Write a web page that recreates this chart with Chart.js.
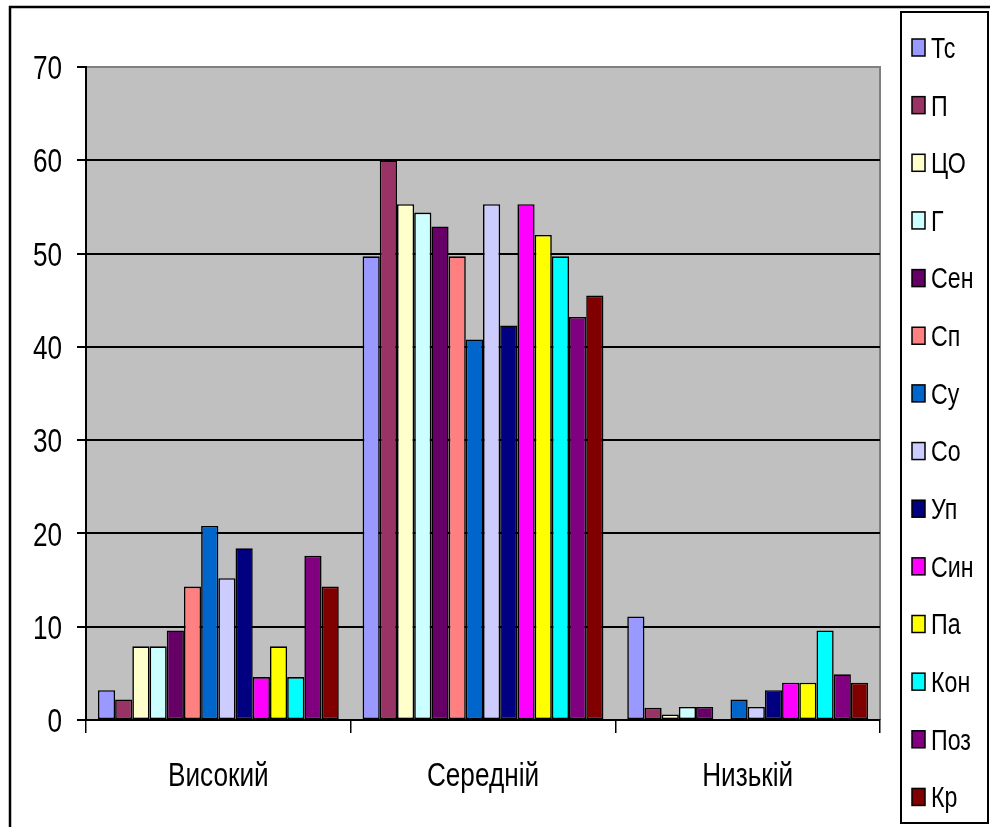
<!DOCTYPE html>
<html>
<head>
<meta charset="utf-8">
<script src="https://cdn.jsdelivr.net/npm/chart.js@4/dist/chart.umd.min.js"></script>
<style>
  html, body { margin: 0; padding: 0; background: #fff; }
  canvas { display: block; }
</style>
</head>
<body>
<canvas id="chart" width="990" height="827"></canvas>
<script>
// Levels along the x axis
const categories = ['Високий', 'Середній', 'Низькій'];

// Series (one bar per series in each level)
const seriesNames = ['Тс', 'П', 'ЦО', 'Г', 'Сен', 'Сп', 'Су', 'Со', 'Уп', 'Син', 'Па', 'Кон', 'Поз', 'Кр'];
const seriesColors = ['#9999FF', '#993366', '#FFFFCC', '#CCFFFF', '#660066', '#FF8080', '#0066CC',
                      '#CCCCFF', '#000080', '#FF00FF', '#FFFF00', '#00FFFF', '#800080', '#800000'];

// Values per level, in series order
const highValues   = [3.2, 2.2, 7.9, 7.9, 9.6, 14.3, 20.8, 15.2, 18.4, 4.6, 7.9, 4.6, 17.6, 14.3];
const mediumValues = [49.7, 60, 55.3, 54.4, 52.9, 49.7, 40.8, 55.3, 42.3, 55.3, 52.0, 49.7, 43.2, 45.5];
const lowValues    = [11.1, 1.3, 0.6, 1.4, 1.4, 0, 2.2, 1.4, 3.2, 4.0, 4.0, 9.6, 4.9, 4.0];

// Value axis
const yMin = 0;
const yMax = 70;
const yStep = 10;

const FONT = "'Liberation Sans', Arial, sans-serif";
const AXIS_FONT_SIZE = 34;
const AXIS_STRETCH = 0.77;   // condensed look of the axis text
const LEGEND_FONT_SIZE = 29;
const LEGEND_STRETCH = 0.8;

const datasets = seriesNames.map((name, i) => ({
  label: name,
  data: [highValues[i], mediumValues[i], lowValues[i]],
  backgroundColor: seriesColors[i],
  borderColor: '#000',
  borderWidth: 1.6,
  borderSkipped: false,
  categoryPercentage: 0.91,
  barPercentage: 1.0
}));

// Draw text squeezed horizontally around its anchor point
function drawCondensed(ctx, text, x, y, stretch, align) {
  ctx.save();
  ctx.translate(x, y);
  ctx.scale(stretch, 1);
  ctx.textAlign = align;
  ctx.fillText(text, 0, 0);
  ctx.restore();
}

// Page background, grey plot area and its grey top/right edge
const plotBackground = {
  id: 'plotBackground',
  beforeDraw(chart) {
    const { ctx, chartArea: a } = chart;
    ctx.save();
    ctx.fillStyle = '#fff';
    ctx.fillRect(0, 0, chart.width, chart.height);
    ctx.fillStyle = '#C0C0C0';
    ctx.fillRect(a.left, a.top, a.right - a.left, a.bottom - a.top);
    ctx.strokeStyle = '#808080';
    ctx.lineWidth = 2;
    ctx.beginPath();
    ctx.moveTo(a.left, a.top);
    ctx.lineTo(a.right, a.top);
    ctx.lineTo(a.right, a.bottom);
    ctx.stroke();
    ctx.restore();
  }
};

// Tick labels of both axes, placed at the scales' own tick pixels
const axisLabels = {
  id: 'axisLabels',
  afterDraw(chart) {
    const { ctx } = chart;
    const xs = chart.scales.x;
    const ys = chart.scales.y;
    const cap = AXIS_FONT_SIZE * 0.716;
    ctx.save();
    ctx.fillStyle = '#000';
    ctx.font = AXIS_FONT_SIZE + 'px ' + FONT;
    ctx.textBaseline = 'alphabetic';
    ys.ticks.forEach((t, i) => {
      const py = ys.getPixelForTick(i);
      drawCondensed(ctx, String(t.label), ys.right - 9 - 15, py + cap / 2, AXIS_STRETCH, 'right');
    });
    xs.ticks.forEach((t, i) => {
      const px = xs.getPixelForTick(i);
      drawCondensed(ctx, String(t.label), px, xs.top + 66, AXIS_STRETCH, 'center');
    });
    ctx.restore();
  }
};

// Outer frame and the boxed legend on the right
const frameAndLegend = {
  id: 'frameAndLegend',
  afterDraw(chart) {
    const ctx = chart.ctx;
    ctx.save();
    ctx.strokeStyle = '#000';
    ctx.lineWidth = 2.5;
    ctx.beginPath();
    ctx.moveTo(10, chart.height);
    ctx.lineTo(10, 7);
    ctx.lineTo(chart.width, 7);
    ctx.stroke();

    ctx.lineWidth = 2;
    ctx.strokeRect(901, 12, 87, 811);

    ctx.font = LEGEND_FONT_SIZE + 'px ' + FONT;
    ctx.textBaseline = 'alphabetic';
    const cap = LEGEND_FONT_SIZE * 0.716;
    chart.data.datasets.forEach((ds, i) => {
      const cy = 47.5 + i * 57.65;
      ctx.fillStyle = ds.backgroundColor;
      ctx.fillRect(912, cy - 8.5, 13, 17);
      ctx.lineWidth = 1.5;
      ctx.strokeStyle = '#000';
      ctx.strokeRect(912, cy - 8.5, 13, 17);
      ctx.fillStyle = '#000';
      drawCondensed(ctx, ds.label, 931, cy + cap / 2, LEGEND_STRETCH, 'left');
    });
    ctx.restore();
  }
};

new Chart(document.getElementById('chart'), {
  type: 'bar',
  data: { labels: categories, datasets },
  options: {
    responsive: false,
    animation: false,
    devicePixelRatio: 1,
    layout: { padding: { left: 0, top: 67, right: 110, bottom: 0 } },
    plugins: {
      legend: { display: false },
      tooltip: { enabled: false }
    },
    scales: {
      x: {
        afterFit(scale) { scale.height = 107; },
        border: { display: true, color: '#000', width: 2 },
        grid: {
          offset: true,
          drawOnChartArea: false,
          drawTicks: true,
          tickLength: 13,
          color: '#000',
          lineWidth: 1.5
        },
        ticks: { display: false }
      },
      y: {
        min: yMin,
        max: yMax,
        afterFit(scale) { scale.width = 86; },
        border: { display: true, color: '#000', width: 2 },
        grid: {
          color: ctx => (ctx.tick && ctx.tick.value === yMax ? '#808080' : '#000'),
          tickColor: '#000',
          lineWidth: 2,
          tickLength: 9
        },
        ticks: { display: false, stepSize: yStep }
      }
    }
  },
  plugins: [plotBackground, axisLabels, frameAndLegend]
});
</script>
</body>
</html>
